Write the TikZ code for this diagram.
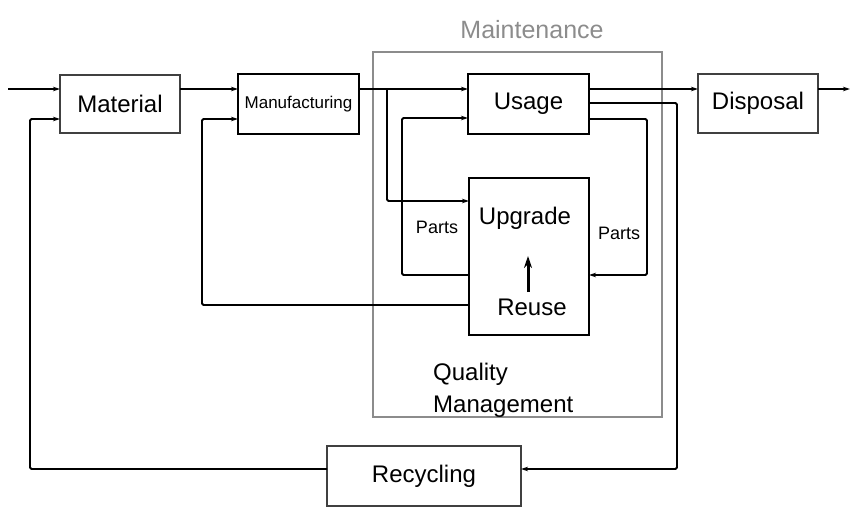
\documentclass[tikz,border=0pt]{standalone}
\usepackage{fontspec}
\setmainfont{Liberation Sans}
\usetikzlibrary{arrows.meta}
\begin{document}
\begin{tikzpicture}[x=1pt,y=-1pt,
  thinbox/.style={draw=black!75,line width=1.2pt,inner sep=0pt,outer sep=0pt,font=\fontsize{24}{28}\selectfont},
  thickbox/.style={draw=black,line width=2.8pt,inner sep=0pt,outer sep=0pt,font=\fontsize{24}{28}\selectfont},
  conn/.style={draw=black,line width=1.8pt,rounded corners=1.5pt},
  arr/.style={conn,-{Stealth[length=7pt,width=4.5pt]}},
  lbl/.style={inner sep=0pt,font=\fontsize{24}{28}\selectfont},
  small/.style={inner sep=0pt,font=\fontsize{18}{22}\selectfont}]
\useasboundingbox (0,0) rectangle (860,514);
% maintenance frame
\node[draw=black!45,line width=2pt,inner sep=0pt,outer sep=0pt,minimum width=289pt,minimum height=365pt] (maint) at (517.5,234.5) {};
\node[inner sep=0pt,text=black!45,font=\fontsize{25}{29}\selectfont] (mlabel) at (532,30) {Maintenance};
% boxes
\node[thinbox,minimum width=120pt,minimum height=58pt] (mat) at (120,104) {Material};
\node[thickbox,minimum width=121pt,minimum height=60pt,font=\fontsize{17}{20}\selectfont] (man) at (298.5,104) {Manufacturing};
\node[thickbox,minimum width=121pt,minimum height=60pt] (use) at (528.5,104) {Usage};
\node[thinbox,minimum width=120pt,minimum height=59pt] (disp) at (758,103.5) {Disposal};
\node[thickbox,minimum width=120pt,minimum height=157pt] (ur) at (529,256.5) {};
\node[thinbox,minimum width=194pt,minimum height=60pt] (rec) at (424,476) {Recycling};
% texts
\node[lbl] (upg) at (525,218) {Upgrade};
\node[lbl] (reu) at (532,307) {Reuse};
\node[small] (pl) at (437,227) {Parts};
\node[small] (pr) at (619,233) {Parts};
\node[lbl,anchor=north west,align=left,font=\fontsize{24}{32}\selectfont] (qm) at (433,363) {Quality\\Management};
% coordinates
\coordinate (in) at (8,89);
\coordinate (out) at (850,89);
\coordinate (br) at (387,89);
\coordinate (brd) at (387,201);
\coordinate (pl1) at (402,275);
\coordinate (pl2) at (402,118);
\coordinate (pr1) at (647,119);
\coordinate (pr2) at (647,275);
\coordinate (rc1) at (677,103);
\coordinate (rc2) at (677,469);
\coordinate (rm1) at (30,469);
\coordinate (rm2) at (30,119);
\coordinate (ru1) at (202,305);
\coordinate (ru2) at (202,119);
\coordinate (ia) at (528,292);
\coordinate (ib) at (528,256);
% connectors
\draw[arr] (in) -- (mat.west |- in);
\draw[arr] (mat.east |- in) -- (man.west |- in);
\draw[arr] (man.east |- in) -- (use.west |- in);
\draw[arr] (br) -- (brd) -- (ur.west |- brd);
\draw[arr] (use.east |- in) -- (disp.west |- in);
\draw[arr] (disp.east |- in) -- (out);
\draw[arr] (ur.west |- pl1) -- (pl1) -- (pl2) -- (use.west |- pl2);
\draw[arr] (use.east |- pr1) -- (pr1) -- (pr2) -- (ur.east |- pr2);
\draw[arr] (use.east |- rc1) -- (rc1) -- (rc2) -- (rec.east |- rc2);
\draw[arr] (rec.west |- rm1) -- (rm1) -- (rm2) -- (mat.west |- rm2);
\draw[arr] (ur.west |- ru1) -- (ru1) -- (ru2) -- (man.west |- ru2);
\draw[line width=3pt,-{Stealth[length=12pt,width=8pt]}] (ia) -- (ib);
\end{tikzpicture}
\end{document}
